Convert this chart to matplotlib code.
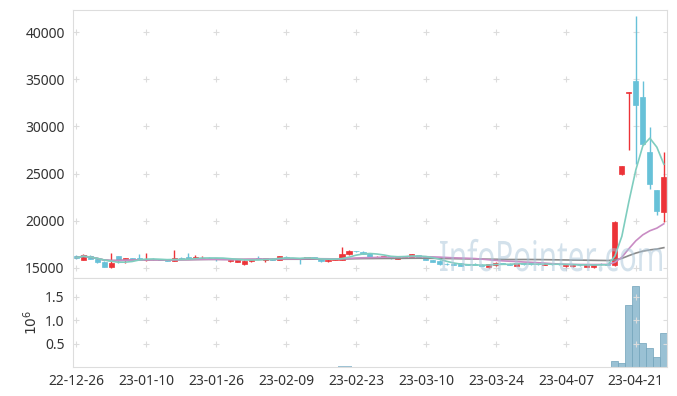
import numpy as np
import pandas as pd
import matplotlib
matplotlib.use("Agg")
import matplotlib.pyplot as plt
from matplotlib.textpath import TextPath
from matplotlib.patches import PathPatch
from matplotlib.font_manager import FontProperties
from matplotlib.transforms import Affine2D

plt.rcParams['font.family'] = ['Noto Sans', 'DejaVu Sans']

# 거래일
dates = [
    "2022-12-26", "2022-12-27", "2022-12-28", "2022-12-29",
    "2023-01-02", "2023-01-03", "2023-01-04", "2023-01-05", "2023-01-06",
    "2023-01-09", "2023-01-10", "2023-01-11", "2023-01-12", "2023-01-13",
    "2023-01-16", "2023-01-17", "2023-01-18", "2023-01-19", "2023-01-20",
    "2023-01-25", "2023-01-26", "2023-01-27",
    "2023-01-30", "2023-01-31", "2023-02-01", "2023-02-02", "2023-02-03",
    "2023-02-06", "2023-02-07", "2023-02-08", "2023-02-09", "2023-02-10",
    "2023-02-13", "2023-02-14", "2023-02-15", "2023-02-16", "2023-02-17",
    "2023-02-20", "2023-02-21", "2023-02-22", "2023-02-23", "2023-02-24",
    "2023-02-27", "2023-02-28", "2023-03-02", "2023-03-03",
    "2023-03-06", "2023-03-07", "2023-03-08", "2023-03-09", "2023-03-10",
    "2023-03-13", "2023-03-14", "2023-03-15", "2023-03-16", "2023-03-17",
    "2023-03-20", "2023-03-21", "2023-03-22", "2023-03-23", "2023-03-24",
    "2023-03-27", "2023-03-28", "2023-03-29", "2023-03-30", "2023-03-31",
    "2023-04-03", "2023-04-04", "2023-04-05", "2023-04-06", "2023-04-07",
    "2023-04-10", "2023-04-11", "2023-04-12", "2023-04-13", "2023-04-14",
    "2023-04-17", "2023-04-18", "2023-04-19", "2023-04-20", "2023-04-21",
    "2023-04-24", "2023-04-25", "2023-04-26", "2023-04-27",
]

opens = [16300, 15850, 16300, 16000, 15650, 15100, 16250, 15820, 16050, 16000,
         15800, 15950, 15900, 15920, 15750, 16100, 16200, 15950, 16050, 16100,
         16050, 15950, 15700, 15630, 15400, 15700, 16000, 15800, 16000, 15850,
         16120, 16050, 16050, 15950, 16100, 15950, 15700, 15850, 15850, 16450,
         16800, 16700, 16550, 16100, 16100, 16270, 15950, 16130, 16200, 16350,
         16200, 15800, 15780, 15450, 15400, 15500, 15400, 15450, 15350, 15100,
         15300, 15480, 15450, 15250, 15480, 15500, 15450, 15350, 15480, 15420,
         15200, 15200, 15320, 15150, 15100, 15450, 15450, 15300, 25000, 33500,
         34830, 33080, 27250, 23260, 20960]
highs = [16400, 16450, 16350, 16100, 15700, 16550, 16300, 16100, 16100, 16450,
         16550, 16050, 16000, 16000, 16900, 16150, 16550, 16350, 16300, 16150,
         16100, 16000, 15900, 15850, 15800, 15950, 16250, 16100, 16050, 16270,
         16250, 16100, 16100, 16200, 16150, 16000, 15900, 16050, 17200, 16950,
         16850, 16750, 16600, 16250, 16300, 16300, 16300, 16300, 16500, 16400,
         16250, 15850, 15800, 15500, 15450, 15550, 15450, 15500, 15400, 15450,
         15600, 15500, 15500, 15550, 15500, 15550, 15500, 15500, 15500, 15450,
         15350, 15350, 15350, 15400, 15350, 15500, 15500, 19950, 25850, 33600,
         41730, 34800, 29900, 23300, 27320]
lows = [16000, 15800, 15950, 15550, 15100, 15050, 15550, 15550, 15900, 15900,
        15750, 15850, 15850, 15700, 15700, 15950, 15950, 15900, 16000, 16000,
        15700, 15900, 15650, 15600, 15350, 15650, 15950, 15600, 15850, 15800,
        16050, 15950, 15450, 15900, 16050, 15650, 15650, 15800, 15800, 16400,
        16700, 16450, 16100, 16050, 16050, 16000, 15900, 16100, 16150, 16150,
        15800, 15600, 15350, 15350, 15300, 15200, 15300, 15300, 15200, 15050,
        15250, 15380, 15300, 15200, 15350, 15350, 15350, 15300, 15350, 15350,
        15150, 15150, 15250, 15100, 15050, 15350, 15300, 15250, 24800, 27500,
        26000, 28000, 23370, 20600, 19900]
closes = [16100, 16380, 16000, 15600, 15150, 15500, 15800, 16030, 15950, 15950,
          15950, 15900, 15880, 15750, 16030, 16000, 16000, 16150, 16100, 16050,
          16000, 15930, 15850, 15800, 15740, 15900, 15970, 16100, 15870, 16270,
          16080, 15970, 15900, 16150, 16070, 15700, 15850, 15900, 16480, 16800,
          16750, 16500, 16150, 16200, 16280, 16050, 16270, 16270, 16480, 16200,
          15850, 15650, 15400, 15380, 15350, 15250, 15350, 15320, 15250, 15400,
          15550, 15420, 15350, 15500, 15380, 15400, 15380, 15450, 15380, 15400,
          15300, 15300, 15300, 15350, 15300, 15400, 15350, 19900, 25850, 33600,
          32300, 28100, 23930, 21070, 24600]
volumes = [3000, 4000, 2500, 3500, 4000, 3500, 3000, 2500, 2000, 2500,
           3000, 2000, 1800, 2200, 4000, 2500, 3000, 2200, 2000, 1800,
           2500, 1800, 2000, 2200, 2800, 2500, 2000, 2200, 1800, 2500,
           2000, 1800, 2500, 2200, 1800, 2200, 2000, 2500, 30000, 12000,
           3500, 2500, 3000, 2000, 2200, 2000, 2200, 2000, 2500, 2000,
           2500, 2200, 3000, 2200, 2000, 2200, 1800, 2000, 1800, 2200,
           2500, 1800, 1800, 2200, 1800, 1800, 1500, 1800, 1500, 1500,
           2000, 1800, 1500, 2000, 1800, 1800, 2000, 135000, 80000, 1330000,
           1730000, 520000, 400000, 210000, 730000]

UP = '#ec3338'
DOWN = '#67c1d8'

df = pd.DataFrame({'open': opens, 'high': highs, 'low': lows,
                   'close': closes, 'volume': volumes},
                  index=pd.to_datetime(dates))
x = np.arange(len(df))
ma5 = df['close'].rolling(5, min_periods=1).mean()
ma20 = df['close'].rolling(20, min_periods=1).mean()
ma60 = df['close'].rolling(60, min_periods=1).mean()

fig = plt.figure(figsize=(6.77, 3.96), dpi=100)
ax = fig.add_axes([0.1078, 0.298, 0.8774, 0.6767])
axv = fig.add_axes([0.1078, 0.0732, 0.8774, 0.2248], sharex=ax)

# 캔들
up = df['close'] >= df['open']
colors = np.where(up, UP, DOWN)
body_lo = np.minimum(df['open'], df['close'])
body_h = np.maximum(np.abs(df['close'] - df['open']), 60)
ax.vlines(x, df['low'], df['high'], colors=colors, linewidth=1.0, zorder=2)
ax.bar(x, body_h, bottom=body_lo, width=0.72, color=colors,
       edgecolor=colors, linewidth=0.5, zorder=2)

# 이동평균
ax.plot(x, ma60, color='#8a8a8a', linewidth=1.2, zorder=3)
ax.plot(x, ma20, color='#c98cc4', linewidth=1.2, zorder=3)
ax.plot(x, ma5, color='#7fcdbf', linewidth=1.2, zorder=3)

# 거래량
big = df['volume'] > 50000
axv.bar(x[big], df['volume'][big] / 1e6, width=1.0, color='#8fbbd0',
        edgecolor='#76a6bd', linewidth=0.6, alpha=0.9)
axv.bar(x[~big], df['volume'][~big] / 1e6, width=1.0, color='#8fbbd0',
        linewidth=0, alpha=0.9)

ax.set_xlim(-0.45, 84.45)
ax.set_ylim(13940, 42330)
axv.set_ylim(0, 1.9)

yticks = [15000, 20000, 25000, 30000, 35000, 40000]
vticks = [0.5, 1.0, 1.5]
xticks = list(range(0, len(df), 10))
ax.set_yticks(yticks)
axv.set_yticks(vticks)
axv.set_xticks(xticks)
axv.set_xticklabels([df.index[i].strftime('%y-%m-%d') for i in xticks])
axv.set_ylabel(r'$10^6$', fontsize=10, color='#333333', labelpad=3)

# 격자 대신 + 표시
gx, gy = np.meshgrid(xticks, yticks)
ax.scatter(gx.ravel(), gy.ravel(), marker='+', s=16, color='#dcdcdc',
           linewidths=0.8, zorder=1)
gx, gy = np.meshgrid(xticks, vticks)
axv.scatter(gx.ravel(), gy.ravel(), marker='+', s=16, color='#dcdcdc',
            linewidths=0.8, zorder=1)

for a in (ax, axv):
    for s in a.spines.values():
        s.set_color('#dddddd')
        s.set_linewidth(0.8)
    a.tick_params(axis='y', left=False, right=True, direction='in',
                  length=3, color='#dddddd', labelsize=10,
                  labelcolor='#333333', pad=6)
    a.tick_params(axis='x', length=0, labelsize=10, labelcolor='#333333',
                  pad=5)
ax.tick_params(axis='x', labelbottom=False)

# 워터마크 (세로로 조금 늘린 글자)
tp = TextPath((0, 0), 'InfoPointer.com', size=1,
              prop=FontProperties(family='Noto Sans'))
ext = tp.get_extents()
sx = 2.22 / ext.width
sy = 0.30 / 0.714
wm_tr = Affine2D().translate(-ext.x0, 0).scale(sx, sy).translate(4.40, 1.25)
ax.add_artist(PathPatch(tp, transform=wm_tr + fig.dpi_scale_trans,
                        facecolor='#a9c5d9', edgecolor='none', alpha=0.5,
                        zorder=4, clip_on=False))

fig.savefig('out.png', dpi=100)
